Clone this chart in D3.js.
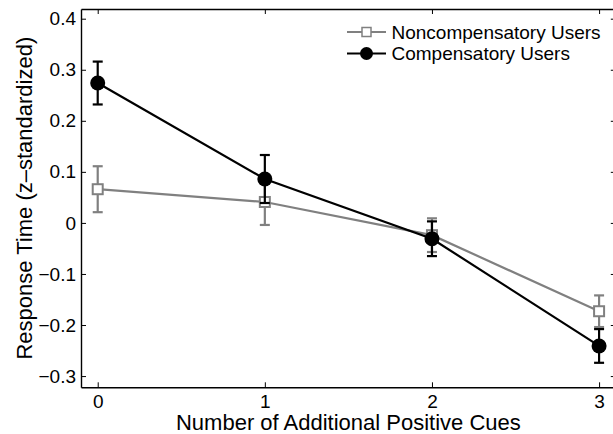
<!DOCTYPE html>
<html>
<head>
<meta charset="utf-8">
<script src="https://cdn.jsdelivr.net/npm/d3@7"></script>
<style>
  body { margin: 0; background: #fff; }
  text { font-family: "Liberation Sans", Arial, Helvetica, sans-serif; fill: #000; }
</style>
</head>
<body>
<script>
  // data
  let cues = [0, 1, 2, 3];
  let noncompMean = [0.066, 0.041, -0.024, -0.173];
  let noncompErr  = [0.045, 0.045, 0.033, 0.031];
  let compMean    = [0.274, 0.086, -0.031, -0.241];
  let compErr     = [0.042, 0.047, 0.034, 0.033];
  let yTicks = [-0.3, -0.2, -0.1, 0, 0.1, 0.2, 0.3, 0.4];
  let seriesNames = ["Noncompensatory Users", "Compensatory Users"];

  let width = 613, height = 434;

  let svg = d3.select('body').append('svg')
      .attr('width', width)
      .attr('height', height);

  let xScale = d3.scaleLinear().domain([-0.1, 3.1]).range([81, 615.8]);
  let yScale = d3.scaleLinear().domain([-0.322, 0.419]).range([387.3, 9]);

  let fmt = d => d === 0 ? "0" : (d < 0 ? "\u2212" + Math.abs(d).toFixed(1) : d.toFixed(1));

  // bottom axis (ticks inward)
  let xAxis = d3.axisBottom(xScale).tickValues(cues).tickSizeInner(-5).tickSizeOuter(0)
      .tickPadding(7).tickFormat(d3.format("d"));
  let gx = svg.append('g').attr('transform', 'translate(0,' + yScale.range()[0] + ')').call(xAxis);

  // top axis, ticks only
  let gxt = svg.append('g').attr('transform', 'translate(0,' + yScale.range()[1] + ')')
      .call(d3.axisTop(xScale).tickValues(cues).tickSizeInner(-5).tickSizeOuter(0).tickFormat(""));

  // left axis
  let yAxis = d3.axisLeft(yScale).tickValues(yTicks).tickSizeInner(-5).tickSizeOuter(0)
      .tickPadding(5).tickFormat(fmt);
  let gy = svg.append('g').attr('transform', 'translate(' + xScale.range()[0] + ',0)').call(yAxis);

  // right axis, ticks only
  let gyr = svg.append('g').attr('transform', 'translate(' + xScale.range()[1] + ',0)')
      .call(d3.axisRight(yScale).tickValues(yTicks).tickSizeInner(-5).tickSizeOuter(0).tickFormat(""));

  [gx, gxt, gy, gyr].forEach(g => {
    g.select('.domain').attr('stroke', '#000').attr('stroke-width', 1.4);
    g.selectAll('.tick line').attr('stroke', '#000').attr('stroke-width', 1);
    g.selectAll('.tick text').style('font-size', '19px').attr('fill', '#000');
  });

  // axis titles
  svg.append('text')
      .attr('x', (xScale(0) + xScale(3)) / 2)
      .attr('y', 430)
      .style('text-anchor', 'middle')
      .style('font-size', '22px')
      .text('Number of Additional Positive Cues');

  svg.append('text')
      .style('text-anchor', 'middle')
      .style('font-size', '22px')
      .attr('transform', 'translate(32,' + (yScale.range()[0] + yScale.range()[1]) / 2 + ') rotate(-90)')
      .text('Response Time (z\u2013standardized)');

  let line = d3.line().x((d, i) => xScale(cues[i])).y(d => yScale(d));

  function drawSeries(means, errs, color, marker) {
    let g = svg.append('g');
    g.append('path')
        .datum(means)
        .attr('d', line)
        .attr('fill', 'none')
        .attr('stroke', color)
        .attr('stroke-width', 2.2);

    // error bars
    let eb = g.selectAll('.eb').data(means).enter().append('g');
    eb.append('line')
        .attr('x1', (d, i) => xScale(cues[i])).attr('x2', (d, i) => xScale(cues[i]))
        .attr('y1', (d, i) => yScale(d + errs[i])).attr('y2', (d, i) => yScale(d - errs[i]))
        .attr('stroke', color).attr('stroke-width', 2.2);
    [1, -1].forEach(s => {
      eb.append('line')
          .attr('x1', (d, i) => xScale(cues[i]) - 5).attr('x2', (d, i) => xScale(cues[i]) + 5)
          .attr('y1', (d, i) => yScale(d + s * errs[i])).attr('y2', (d, i) => yScale(d + s * errs[i]))
          .attr('stroke', color).attr('stroke-width', 2.2);
    });

    if (marker === 'square') {
      g.selectAll('.mk').data(means).enter().append('rect')
          .attr('x', (d, i) => xScale(cues[i]) - 5)
          .attr('y', d => yScale(d) - 5)
          .attr('width', 10).attr('height', 10)
          .attr('fill', '#fff').attr('stroke', color).attr('stroke-width', 2);
    } else {
      g.selectAll('.mk').data(means).enter().append('circle')
          .attr('cx', (d, i) => xScale(cues[i]))
          .attr('cy', d => yScale(d))
          .attr('r', 7.5)
          .attr('fill', color);
    }
  }

  drawSeries(noncompMean, noncompErr, '#808080', 'square');
  drawSeries(compMean, compErr, '#000', 'circle');

  // legend
  let legend = svg.append('g');
  let legendRows = [
    {name: seriesNames[0], color: '#808080', marker: 'square', y: 32},
    {name: seriesNames[1], color: '#000', marker: 'circle', y: 53.5}
  ];
  legendRows.forEach(r => {
    legend.append('line').attr('x1', 347).attr('x2', 386).attr('y1', r.y).attr('y2', r.y)
        .attr('stroke', r.color).attr('stroke-width', 2.2);
    if (r.marker === 'square') {
      legend.append('rect').attr('x', 362).attr('y', r.y - 4.5).attr('width', 9).attr('height', 9)
          .attr('fill', '#fff').attr('stroke', r.color).attr('stroke-width', 1.5);
    } else {
      legend.append('circle').attr('cx', 366.5).attr('cy', r.y).attr('r', 6.5).attr('fill', r.color);
    }
    legend.append('text').attr('x', 391.5).attr('y', r.y + 6.5).style('font-size', '19px').text(r.name);
  });
</script>
</body>
</html>
